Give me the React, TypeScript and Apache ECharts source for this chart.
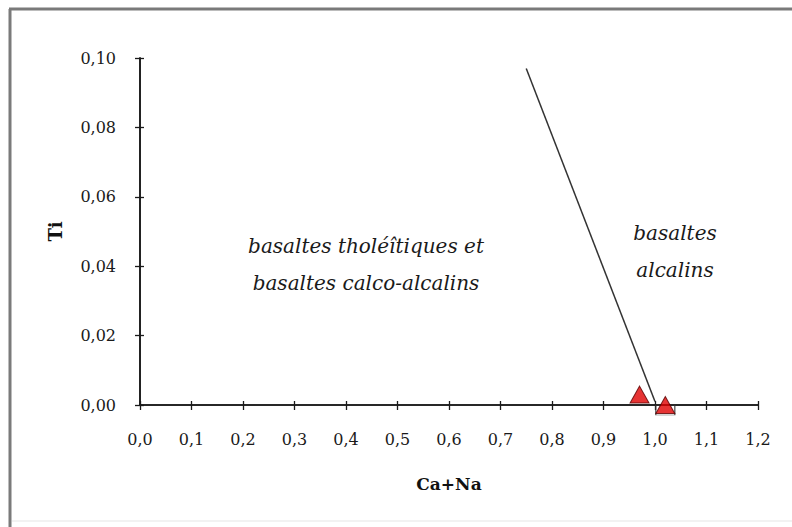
import React, { useEffect, useRef } from "react";
import * as echarts from "echarts";

// Ti vs Ca+Na discrimination diagram for clinopyroxenes
const xTicks = ["0,0", "0,1", "0,2", "0,3", "0,4", "0,5", "0,6", "0,7", "0,8", "0,9", "1,0", "1,1", "1,2"];
const yTicks = ["0,00", "0,02", "0,04", "0,06", "0,08", "0,10"];

// boundary between the two basalt fields
const boundaryLine: [number, number][] = [
  [0.75, 0.097],
  [1.0, 0.001],
];

// analysed samples (Ca+Na, Ti)
const samples: [number, number][] = [
  [0.97, 0.003],
  [1.02, 0.0],
];

const fieldLeft = ["basaltes tholéîtiques et", "basaltes calco-alcalins"];
const fieldRight = ["basaltes", "alcalins"];

const serif = "'DejaVu Serif', 'Liberation Serif', serif";

export default function App() {
  const ref = useRef<HTMLDivElement>(null);

  useEffect(() => {
    if (!ref.current) return;
    const chart = echarts.init(ref.current, null, { renderer: "svg" });

    const axisCommon = {
      min: 0,
      axisLine: { show: true, onZero: false, lineStyle: { color: "#1a1a1a", width: 1.6 } },
      splitLine: { show: false },
    };

    chart.setOption({
      animation: false,
      backgroundColor: "#fff",
      grid: { left: 140, right: 34, top: 58, bottom: 122 },
      xAxis: [
        {
          ...axisCommon,
          type: "value",
          max: 1.2,
          interval: 0.1,
          axisTick: { show: true, length: 5, lineStyle: { color: "#1a1a1a", width: 1.3 } },
          axisLabel: {
            margin: 26,
            fontFamily: serif,
            fontSize: 16,
            color: "#1a1a1a",
            formatter: (v: number) => xTicks[Math.round(v * 10)] ?? "",
          },
          name: "Ca+Na",
          nameLocation: "middle",
          nameGap: 70,
          nameTextStyle: { fontFamily: serif, fontSize: 17, fontWeight: "bold", color: "#111" },
        },
        {
          ...axisCommon,
          type: "value",
          position: "bottom",
          max: 1.2,
          interval: 0.1,
          axisTick: { show: true, inside: true, length: 4, lineStyle: { color: "#1a1a1a", width: 1.3 } },
          axisLabel: { show: false },
        },
      ],
      yAxis: [
        {
          ...axisCommon,
          type: "value",
          max: 0.1,
          interval: 0.02,
          axisTick: { show: true, length: 5, lineStyle: { color: "#1a1a1a", width: 1.3 } },
          axisLabel: {
            margin: 24,
            fontFamily: serif,
            fontSize: 16,
            color: "#1a1a1a",
            formatter: (v: number) => yTicks[Math.round(v * 50)] ?? "",
          },
          name: "Ti",
          nameLocation: "middle",
          nameGap: 76,
          nameRotate: 90,
          nameTextStyle: { fontFamily: serif, fontSize: 18, fontWeight: "bold", color: "#111" },
        },
        {
          ...axisCommon,
          type: "value",
          position: "left",
          max: 0.1,
          interval: 0.02,
          axisTick: { show: true, inside: true, length: 4, lineStyle: { color: "#1a1a1a", width: 1.3 } },
          axisLabel: { show: false },
        },
      ],
      series: [
        {
          type: "line",
          data: boundaryLine,
          showSymbol: false,
          symbol: "none",
          lineStyle: { color: "#333", width: 1.5 },
          z: 2,
        },
        {
          type: "scatter",
          data: [samples[1]],
          symbol: "rect",
          symbolSize: [19, 10],
          symbolOffset: [0, 5],
          itemStyle: { color: "rgba(255,255,255,0)", borderColor: "#333", borderWidth: 1 },
          clip: false,
          z: 3,
        },
        {
          type: "scatter",
          data: samples,
          symbol: "triangle",
          symbolSize: [19, 17],
          itemStyle: { color: "#e00000", borderColor: "#5a0000", borderWidth: 1 },
          clip: false,
          z: 4,
        },
      ],
      graphic: [
        // page frame (left and top edges)
        {
          type: "line",
          shape: { x1: 10, y1: 9, x2: 10, y2: 527 },
          style: { stroke: "#7a7a7a", lineWidth: 3 },
        },
        {
          type: "line",
          shape: { x1: 9, y1: 9, x2: 792, y2: 9 },
          style: { stroke: "#7a7a7a", lineWidth: 3 },
        },
        {
          type: "line",
          shape: { x1: 12, y1: 521, x2: 792, y2: 521 },
          style: { stroke: "#eeeeee", lineWidth: 1.5 },
        },
        {
          type: "text",
          x: 366,
          y: 264,
          style: {
            text: fieldLeft.join("\n"),
            font: `italic 20px ${serif}`,
            fill: "#1a1a1a",
            align: "center",
            verticalAlign: "middle",
            lineHeight: 37,
          },
        },
        {
          type: "text",
          x: 675,
          y: 251,
          style: {
            text: fieldRight.join("\n"),
            font: `italic 20px ${serif}`,
            fill: "#1a1a1a",
            align: "center",
            verticalAlign: "middle",
            lineHeight: 37,
          },
        },
      ],
    });

    return () => chart.dispose();
  }, []);

  return (
    <div
      ref={ref}
      style={{ position: "absolute", left: 0, top: 0, width: 792, height: 527 }}
    />
  );
}
